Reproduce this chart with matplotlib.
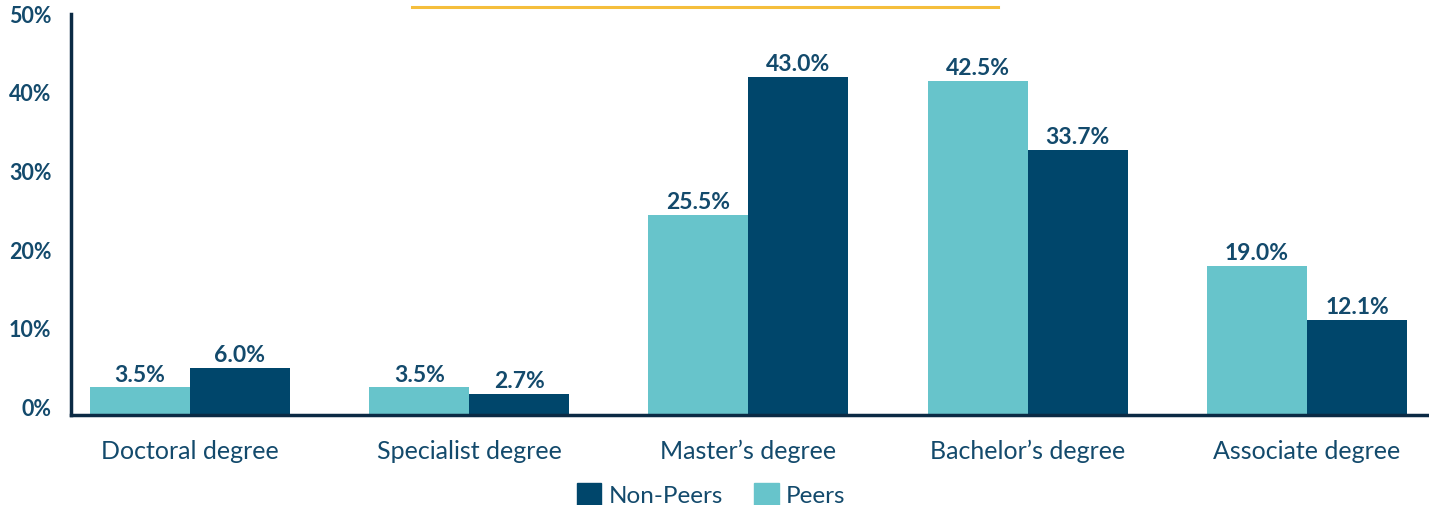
import matplotlib
matplotlib.use("Agg")
import matplotlib.pyplot as plt
import numpy as np
from matplotlib.lines import Line2D
from matplotlib.patches import Patch

categories = ["Doctoral degree", "Specialist degree", "Master\u2019s degree",
              "Bachelor\u2019s degree", "Associate degree"]
peers = [3.5, 3.5, 25.5, 42.5, 19.0]
non_peers = [6.0, 2.7, 43.0, 33.7, 12.1]
yticks = [0, 10, 20, 30, 40, 50]

LIGHT = "#67C4CB"
DARK = "#00466B"
TEXT = "#134A6C"
SPINE = "#0B2A44"

plt.rcParams["font.family"] = ["Lato", "DejaVu Sans"]

fig = plt.figure(figsize=(14.29, 5.06), dpi=100)
ax = fig.add_axes([71 / 1429, (506 - 416) / 506, (1429 - 71) / 1429, (416 - 15) / 506])

x = np.arange(len(categories))
w = 0.358
b1 = ax.bar(x - w / 2, peers, w, color=LIGHT, label="Peers")
b2 = ax.bar(x + w / 2, non_peers, w, color=DARK, label="Non-Peers")

for bars, vals in ((b1, peers), (b2, non_peers)):
    for r, v in zip(bars, vals):
        ax.annotate(f"{v:.1f}%", (r.get_x() + r.get_width() / 2, v),
                    xytext=(0, 2), textcoords="offset points",
                    ha="center", va="bottom", fontsize=16.5, fontweight="bold",
                    color=TEXT)

ax.set_xlim(-0.426, 4.437)
ax.set_ylim(0, 51)
ax.set_yticks(yticks)
ax.set_yticklabels([f"{t}%" for t in yticks], fontsize=15.5, fontweight="bold",
                   color=TEXT, va="baseline")
ax.set_xticks(x)
ax.set_xticklabels(categories, fontsize=18, color=TEXT)
ax.tick_params(axis="both", length=0)
ax.tick_params(axis="x", pad=17)
ax.tick_params(axis="y", pad=14)

for s in ("top", "right"):
    ax.spines[s].set_visible(False)
for s in ("left", "bottom"):
    ax.spines[s].set_color(SPINE)
    ax.spines[s].set_linewidth(2.5)

handles = [Patch(color=DARK, label="Non-Peers"), Patch(color=LIGHT, label="Peers")]
fig.legend(handles=handles, loc="center", bbox_to_anchor=(0.4976, 0.02), ncol=2,
           frameon=False, fontsize=17.5, labelcolor=TEXT, handlelength=1.0,
           handleheight=1.0, handletextpad=0.3, columnspacing=1.3)

# gold accent rule along the top
fig.add_artist(Line2D([412 / 1429, 998 / 1429], [1 - 8 / 506, 1 - 8 / 506],
                      color="#F5BE3C", lw=2.2, transform=fig.transFigure))

fig.savefig("out.png", dpi=100)
